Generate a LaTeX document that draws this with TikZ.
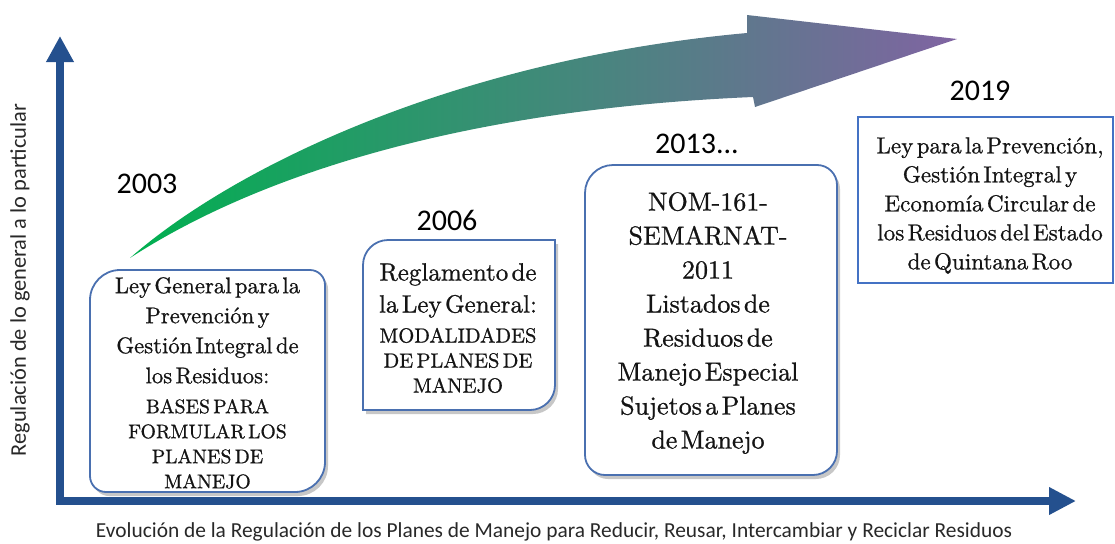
\documentclass[tikz,border=0pt]{standalone}
\usepackage{fontspec}
\newfontfamily\carl{Carlito}
\newfontfamily\lmx{lmroman10-regular.otf}[FakeBold=0.8]
\usetikzlibrary{arrows.meta}
\definecolor{axisblue}{RGB}{36,80,142}
\definecolor{boxblue}{RGB}{74,112,176}
\definecolor{frameblue}{RGB}{68,114,196}
\definecolor{arrgreen}{RGB}{0,176,80}
\definecolor{arrmid}{RGB}{88,148,132}
\definecolor{arrpurple}{RGB}{128,100,162}
\definecolor{txt}{RGB}{20,20,20}
\definecolor{labtxt}{RGB}{40,40,40}

% #1 style, #2 x1, #3 y1, #4 x2, #5 y2, #6 rTL, #7 rTR, #8 rBR, #9 rBL
\newcommand\roundbox[9]{%
 \path[#1] (#2+#6,#3) -- (#4-#7,#3) .. controls (#4-0.45*#7,#3) and (#4,#3+0.45*#7) .. (#4,#3+#7)
  -- (#4,#5-#8) .. controls (#4,#5-0.45*#8) and (#4-0.45*#8,#5) .. (#4-#8,#5)
  -- (#2+#9,#5) .. controls (#2+0.45*#9,#5) and (#2,#5-0.45*#9) .. (#2,#5-#9)
  -- (#2,#3+#6) .. controls (#2,#3+0.45*#6) and (#2+0.45*#6,#3) .. (#2+#6,#3) -- cycle;}

\begin{document}
\begin{tikzpicture}[x=1pt,y=-1pt,
 boxline/.style={draw=boxblue,line width=1.8pt,fill=white},
 boxshadow/.style={fill=black,opacity=0.22,shift={(3,4)}},
 boxtext/.style={anchor=north,align=center,inner sep=0pt,text=txt,font=\lmx},
 year/.style={font=\carl\fontsize{30}{36}\selectfont,text=black,inner sep=0pt},
 axislab/.style={text=labtxt,inner sep=0pt},
 axis/.style={draw=axisblue,line width=8pt,line join=miter,
   {Triangle[width=26pt,length=26pt]}-{Triangle[width=26pt,length=27pt]}},
]
\useasboundingbox (0,0) rectangle (1115,543);

% axes
\coordinate (ytip) at (60,36);
\coordinate (origin) at (60,501);
\coordinate (xtip) at (1076,501);
\draw[axis] (ytip) -- (origin) -- (xtip);

% curved gradient arrow
\shade[left color=arrgreen, middle color=arrmid, right color=arrpurple]
 (130,258) .. controls (230,170) and (450,60) .. (747,33) -- (747,15) -- (957,39)
 -- (755,107) -- (753,97) .. controls (450,110) and (250,180) .. (130,258) -- cycle;

% boxes
\roundbox{boxshadow}{90}{270}{325}{492}{30}{15}{30}{16}
\roundbox{boxline}{90}{270}{325}{492}{30}{15}{30}{16}
\roundbox{boxshadow}{363}{240}{555}{410}{25}{0}{25}{0}
\roundbox{boxline}{363}{240}{555}{410}{25}{0}{25}{0}
\roundbox{boxshadow}{585}{165}{837}{475}{28}{20}{24}{20}
\roundbox{boxline}{585}{165}{837}{475}{28}{20}{24}{20}
\draw[draw=frameblue,line width=2.4pt,fill=white] (858,117) rectangle (1113,283);

% box texts
\node[boxtext,text width=260pt] (t2003) at (207.5,277) {%
 {\lmx\fontsize{22.7}{30}\selectfont Ley General para la\\Prevención y\\Gestión Integral de\\los Residuos:\par}%
 \vspace{5pt}%
 {\lmx\fontsize{19.7}{25}\selectfont BASES PARA\\FORMULAR LOS\\PLANES DE\\MANEJO\par}};
\node[boxtext,text width=220pt] (t2006) at (458,263) {%
 {\lmx\fontsize{25}{32}\selectfont Reglamento de\\la Ley General:\par}%
 \vspace{5pt}%
 {\lmx\fontsize{20.5}{25}\selectfont MODALIDADES\\DE PLANES DE\\MANEJO\par}};
\node[boxtext,text width=260pt] (t2013) at (708,192) {%
 \lmx\fontsize{26}{34}\selectfont
 NOM-161-\\SEMARNAT-\\2011\\Listados de\\Residuos de\\Manejo Especial\\Sujetos a Planes\\de Manejo\par};
\node[boxtext,text width=260pt] (t2019) at (990,137) {%
 \lmx\fontsize{23.1}{29}\selectfont
 Ley para la Prevención,\\Gestión Integral y\\Economía Circular de\\los Residuos del Estado\\de Quintana Roo\par};

% years
\node[year] (y2003) at (147,184) {2003};
\node[year] (y2006) at (447,220) {2006};
\node[year] (y2013) at (697,144) {2013...};
\node[year] (y2019) at (980,91) {2019};

% axis labels
\node[axislab,rotate=90,font=\carl\fontsize{22.4}{26}\selectfont] (ylab) at (20,280) {Regulación de lo general a lo particular};
\node[axislab,anchor=base,font=\carl\fontsize{21.4}{26}\selectfont] (xlab) at (554,537) {Evolución de la Regulación de los Planes de Manejo para Reducir, Reusar, Intercambiar y Reciclar Residuos};
\end{tikzpicture}
\end{document}
